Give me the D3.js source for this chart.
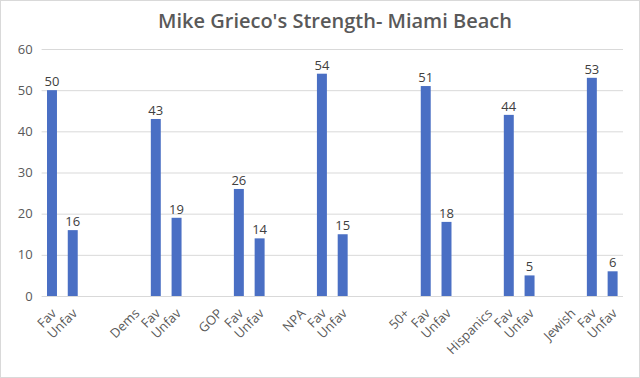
<!DOCTYPE html>
<html>
<head>
<meta charset="utf-8">
<script src="https://cdn.jsdelivr.net/npm/d3@7"></script>
<style>
  body { margin: 0; background: #fff; }
  text { font-family: "Open Sans", "Noto Sans", sans-serif; }
</style>
</head>
<body>
<div id="chart"></div>
<script>
var labels = ["Fav","Unfav","","","Dems","Fav","Unfav","","GOP","Fav","Unfav","","NPA","Fav","Unfav","","","50+","Fav","Unfav","","Hispanics","Fav","Unfav","","Jewish","Fav","Unfav"];
var values = [50,16,null,null,null,43,19,null,null,26,14,null,null,54,15,null,null,null,51,18,null,null,44,5,null,null,53,6];
var yTicks = [0,10,20,30,40,50,60];
var title = "Mike Grieco's Strength- Miami Beach";

var W = 640, H = 378;
var margin = {top: 49, right: 17, bottom: 82, left: 41.6};
var width = W - margin.left - margin.right;
var height = H - margin.top - margin.bottom;

var svg = d3.select("#chart").append("svg")
  .attr("width", W)
  .attr("height", H);

// outer border
svg.append("rect")
  .attr("x", 0.5).attr("y", 0.5)
  .attr("width", W - 1).attr("height", H - 1)
  .attr("fill", "#fff")
  .attr("stroke", "#d9d9d9");

svg.append("text")
  .attr("x", 335).attr("y", 28)
  .attr("text-anchor", "middle")
  .attr("font-size", 20)
  .attr("font-weight", 600)
  .attr("fill", "#595959")
  .text(title);

var g = svg.append("g")
  .attr("transform", "translate(" + margin.left + "," + margin.top + ")");

var x = d3.scaleBand()
  .domain(d3.range(labels.length))
  .range([0, width])
  .paddingInner(0.52)
  .paddingOuter(0.26);

var y = d3.scaleLinear()
  .domain([0, 60])
  .range([height, 0]);

// gridlines
g.selectAll(".grid")
  .data(yTicks.slice(1))
  .enter().append("line")
  .attr("x1", 0).attr("x2", width)
  .attr("y1", function(d) { return y(d) + 0.5; })
  .attr("y2", function(d) { return y(d) + 0.5; })
  .attr("stroke", "#d9d9d9");

// y labels
g.selectAll(".ylab")
  .data(yTicks)
  .enter().append("text")
  .attr("x", -9)
  .attr("y", function(d) { return y(d); })
  .attr("dy", "0.35em")
  .attr("text-anchor", "end")
  .attr("font-size", 13)
  .attr("fill", "#595959")
  .text(function(d) { return d; });

var data = values.map(function(v, i) { return {i: i, v: v}; })
  .filter(function(d) { return d.v !== null; });

g.selectAll(".bar")
  .data(data)
  .enter().append("rect")
  .attr("x", function(d) { return x(d.i); })
  .attr("y", function(d) { return y(d.v); })
  .attr("width", x.bandwidth())
  .attr("height", function(d) { return height - y(d.v); })
  .attr("fill", "#4a6fc4");

g.selectAll(".dlab")
  .data(data)
  .enter().append("text")
  .attr("x", function(d) { return x(d.i) + x.bandwidth() / 2; })
  .attr("y", function(d) { return y(d.v) - 4; })
  .attr("text-anchor", "middle")
  .attr("font-size", 13)
  .attr("fill", "#404040")
  .text(function(d) { return d.v; });

// x axis line
g.append("line")
  .attr("x1", 0).attr("x2", width)
  .attr("y1", height + 0.5).attr("y2", height + 0.5)
  .attr("stroke", "#d9d9d9");

// rotated category labels
g.selectAll(".xlab")
  .data(labels)
  .enter().append("text")
  .attr("transform", function(d, i) {
    var cx = x(i) + x.bandwidth() / 2 + 2;
    return "translate(" + cx + "," + (height + 15) + ") rotate(-45)";
  })
  .attr("text-anchor", "end")
  .attr("dy", "0.35em")
  .attr("font-size", 13)
  .attr("fill", "#595959")
  .text(function(d) { return d; });
</script>
</body>
</html>
